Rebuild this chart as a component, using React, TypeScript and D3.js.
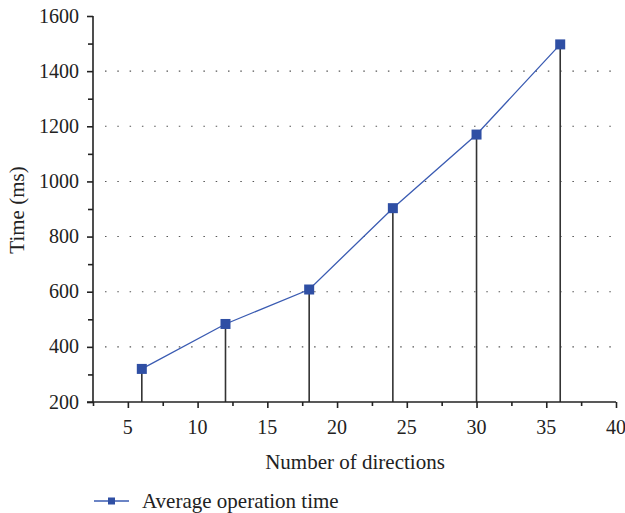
import { useEffect, useRef } from 'react';
import * as d3 from 'd3';

const directions = [6, 12, 18, 24, 30, 36];
const avgTime = [320, 483, 608, 903, 1170, 1497];
const xTicks = [5, 10, 15, 20, 25, 30, 35, 40];
const yTicks = [200, 400, 600, 800, 1000, 1200, 1400, 1600];
const gridTicks = [400, 600, 800, 1000, 1200, 1400];
const seriesName = 'Average operation time';

const App = () => {
  const ref = useRef(null);

  useEffect(() => {
    const width = 625;
    const height = 513;
    const font = '"Liberation Serif", "Times New Roman", serif';
    const lineColor = '#3a5bb2';
    const markColor = '#2f4fa4';

    const svg = d3.select(ref.current)
      .attr('width', width)
      .attr('height', height)
      .style('position', 'absolute')
      .style('left', 0)
      .style('top', 0);
    svg.selectAll('*').remove();

    const x = d3.scaleLinear().domain([2.5, 40]).range([93, 616]);
    const y = d3.scaleLinear().domain([200, 1600]).range([402, 16]);

    // dotted grid
    svg.append('g')
      .selectAll('line')
      .data(gridTicks)
      .join('line')
      .attr('x1', x(2.5) + 12)
      .attr('x2', x(40))
      .attr('y1', (d) => y(d))
      .attr('y2', (d) => y(d))
      .attr('stroke', '#555')
      .attr('stroke-width', 1.1)
      .attr('stroke-dasharray', '1.5,10.8');

    // drop lines
    svg.append('g')
      .selectAll('line')
      .data(directions)
      .join('line')
      .attr('x1', (d) => x(d))
      .attr('x2', (d) => x(d))
      .attr('y1', (d, i) => y(avgTime[i]))
      .attr('y2', y(200))
      .attr('stroke', '#333')
      .attr('stroke-width', 1.6);

    // axes
    const xAxis = svg.append('g')
      .attr('transform', `translate(0,${y(200)})`)
      .call(d3.axisBottom(x).tickValues(d3.range(2.5, 40.1, 2.5)).tickSize(6).tickFormat(() => ''));
    xAxis.selectAll('.tick line')
      .attr('y2', (d) => (Number.isInteger(d) ? 6 : 4));
    xAxis.select('.domain').attr('d', `M${x(2.5) - 6},0H${x(40)}`);

    const yAxis = svg.append('g')
      .attr('transform', `translate(${x(2.5)},0)`)
      .call(d3.axisLeft(y).tickValues(d3.range(200, 1601, 100)).tickSize(6).tickFormat(() => ''));
    yAxis.selectAll('.tick line')
      .attr('x2', (d) => (d % 200 === 0 ? -6 : -5));
    yAxis.select('.domain').attr('d', `M0,${y(200)}V${y(1600)}`);

    svg.selectAll('.domain, .tick line')
      .attr('stroke', '#222')
      .attr('stroke-width', 1.6);

    // tick labels
    svg.append('g')
      .selectAll('text')
      .data(xTicks)
      .join('text')
      .attr('x', (d) => x(d))
      .attr('y', 434)
      .attr('text-anchor', 'middle')
      .attr('font-family', font)
      .attr('font-size', 20)
      .attr('fill', '#222')
      .text((d) => d);

    svg.append('g')
      .selectAll('text')
      .data(yTicks)
      .join('text')
      .attr('x', 79)
      .attr('y', (d) => y(d) + 6.5)
      .attr('text-anchor', 'end')
      .attr('font-family', font)
      .attr('font-size', 20)
      .attr('fill', '#222')
      .text((d) => d);

    // axis titles
    svg.append('text')
      .attr('x', 355)
      .attr('y', 469)
      .attr('text-anchor', 'middle')
      .attr('font-family', font)
      .attr('font-size', 21)
      .attr('fill', '#222')
      .text('Number of directions');

    svg.append('text')
      .attr('transform', `translate(24,210) rotate(-90)`)
      .attr('text-anchor', 'middle')
      .attr('font-family', font)
      .attr('font-size', 21)
      .attr('fill', '#222')
      .text('Time (ms)');

    // series
    const line = d3.line()
      .x((d) => x(d[0]))
      .y((d) => y(d[1]));
    const points = directions.map((d, i) => [d, avgTime[i]]);

    svg.append('path')
      .datum(points)
      .attr('d', line)
      .attr('fill', 'none')
      .attr('stroke', lineColor)
      .attr('stroke-width', 1.3);

    svg.append('g')
      .selectAll('rect')
      .data(points)
      .join('rect')
      .attr('x', (d) => x(d[0]) - 5)
      .attr('y', (d) => y(d[1]) - 5)
      .attr('width', 10)
      .attr('height', 10)
      .attr('fill', markColor);

    // legend
    const legend = svg.append('g').attr('transform', 'translate(94,501)');
    legend.append('line')
      .attr('x1', 0)
      .attr('x2', 35)
      .attr('stroke', lineColor)
      .attr('stroke-width', 1.3);
    legend.append('rect')
      .attr('x', 14)
      .attr('y', -3.5)
      .attr('width', 7)
      .attr('height', 7)
      .attr('fill', markColor);
    legend.append('text')
      .attr('x', 48)
      .attr('y', 6.5)
      .attr('font-family', font)
      .attr('font-size', 21)
      .attr('fill', '#222')
      .text(seriesName);
  }, []);

  return <svg ref={ref}></svg>;
};

export default App;
